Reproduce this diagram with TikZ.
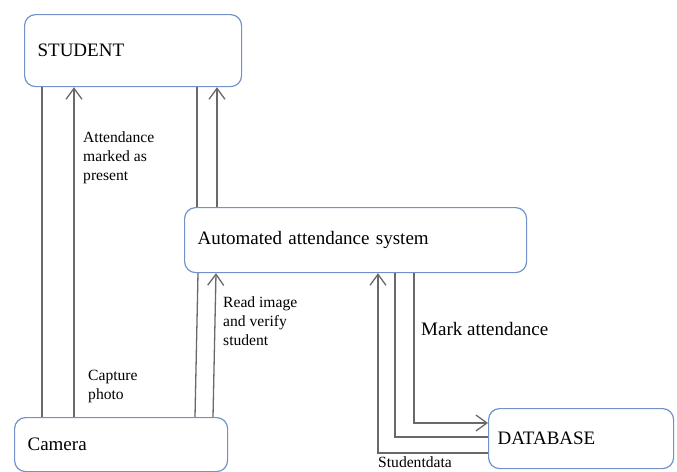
\documentclass[tikz,border=0pt]{standalone}
\usepackage{fontspec}
\setmainfont{Liberation Serif}
\usetikzlibrary{arrows.meta}
\definecolor{boxblue}{RGB}{112,146,200}
\definecolor{linegray}{RGB}{105,105,105}
\begin{document}
\begin{tikzpicture}[x=1pt,y=-1pt,
  box/.style={draw=boxblue, line width=1.2pt, rounded corners=11pt, fill=white,
    anchor=north west, inner xsep=13pt, inner ysep=0pt, align=left,
    font=\fontsize{19}{22}\selectfont},
  flow/.style={draw=linegray, line width=1.3pt},
  flowar/.style={flow, -{Straight Barb[length=11pt,width=16pt,line width=1.3pt]}},
  lab/.style={anchor=north west, inner sep=0pt, align=left, font=\fontsize{15.6}{19}\selectfont},
  biglab/.style={anchor=base west, inner sep=0pt, font=\fontsize{19}{22}\selectfont},
  smalllab/.style={anchor=base west, inner sep=0pt, font=\fontsize{15.6}{19}\selectfont}]
\useasboundingbox (0,0) rectangle (677,471);

\node[box, text width=191pt, minimum height=72pt] (student) at (24,14) {STUDENT};
\node[box, text width=316pt, minimum height=65pt] (aas) at (184,207) {Automated attendance system};
\node[box, text width=187pt, minimum height=54pt] (camera) at (14,417) {Camera};
\node[box, inner xsep=9pt, text width=167pt, minimum height=60pt] (db) at (488,408) {DATABASE};

\coordinate (c42) at (42,0);
\coordinate (c74) at (74,0);
\coordinate (c197) at (197,0);
\coordinate (c217) at (217,0);
\coordinate (c195) at (195,0);
\coordinate (c198) at (198,0);
\coordinate (c213) at (213,0);
\coordinate (c216) at (216,0);
\coordinate (c378) at (378,0);
\coordinate (c395) at (395,0);
\coordinate (c414) at (414,0);
\coordinate (r423) at (0,423);
\coordinate (r437) at (0,437);
\coordinate (r453) at (0,453);

\draw[flow] (camera.north -| c42) -- (student.south -| c42);
\draw[flowar] (camera.north -| c74) -- (student.south -| c74);
\draw[flow] (aas.north -| c197) -- (student.south -| c197);
\draw[flowar] (aas.north -| c217) -- (student.south -| c217);
\draw[flow] (camera.north -| c195) -- (aas.south -| c198);
\draw[flowar] (camera.north -| c213) -- (aas.south -| c216);
\draw[flowar] (db.west |- r453) -| (aas.south -| c378);
\draw[flow] (aas.south -| c395) |- (db.west |- r437);
\draw[flowar] (aas.south -| c414) |- (db.west |- r423);

\node[lab] (l1) at (83,131.5) {Attendance\\marked as\\present};
\node[lab] (l2) at (88,370) {Capture\\photo};
\node[lab] (l3) at (223,296.7) {Read image\\and verify\\student};
\node[biglab] (l4) at (421,335) {Mark attendance};
\node[smalllab] (l5) at (378,467) {Studentdata};
\end{tikzpicture}
\end{document}
